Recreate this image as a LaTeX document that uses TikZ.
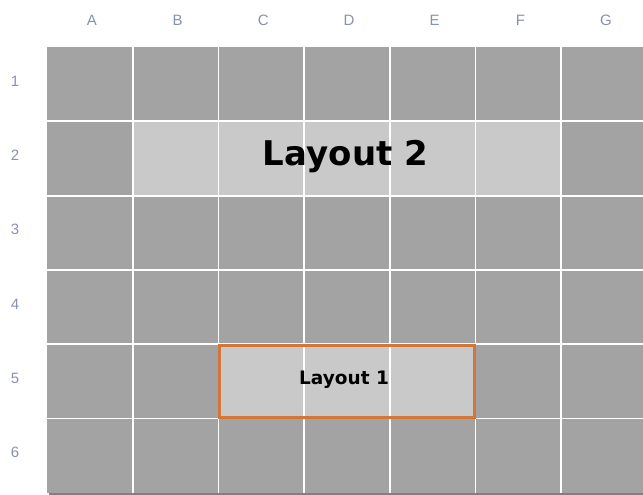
\documentclass[tikz,border=0pt]{standalone}
\usepackage{fontspec}
\setmainfont{DejaVu Sans}
\newfontfamily\labelfont{Liberation Sans}
\usetikzlibrary{fit,positioning}
\definecolor{cellgray}{HTML}{A3A3A3}
\definecolor{cellpale}{HTML}{C9C9C9}
\definecolor{labelblue}{HTML}{8890B0}
\definecolor{frameorange}{HTML}{D2773A}

\begin{document}
\begin{tikzpicture}[x=1pt, y=-1pt,
  cell/.style={fill=#1, minimum width=85.7pt, minimum height=74.3pt,
    inner sep=0, outer sep=0},
  cell/.default=cellgray,
  gridline/.style={draw=white, line width=1.8pt},
  axislabel/.style={font=\labelfont\fontsize{15}{15}\selectfont, text=labelblue},
  title/.style={font=\bfseries\fontsize{#1}{#1}\selectfont, anchor=base, inner sep=0}
]
  \clip (0,0) rectangle (643,495);

  % shadow under the grid
  \fill[black!50] (48.5,49) rectangle (650,494.8);

  % grid cells
  \foreach \c [count=\i] in {A,B,C,D,E,F,G} {
    \foreach \r in {1,...,6} {
      \node[cell] (\c\r) at ({47+85.7*(\i-0.5)}, {47+74.3*(\r-0.5)}) {};
    }
    \node[axislabel] (col\c) at ({49+85.7*(\i-0.5)}, 20) {\c};
  }
  \foreach \r in {1,...,6} {
    \node[axislabel] (row\r) at (15, {44+74.3*(\r-0.5)}) {\r};
  }

  % highlighted cells
  \foreach \c [count=\i from 2] in {B,C,D,E,F} {
    \node[cell=cellpale] (\c2) at ({47+85.7*(\i-0.5)}, {47+74.3*1.5}) {};
  }
  \foreach \c [count=\i from 3] in {C,D,E} {
    \node[cell=cellpale] (\c5) at ({47+85.7*(\i-0.5)}, {47+74.3*4.5}) {};
  }

  % white grid lines
  \foreach \c in {A,B,C,D,E,F} {
    \draw[gridline] (\c1.north east) -- (\c6.south east);
  }
  \foreach \r in {1,...,5} {
    \draw[gridline] (A\r.south west) -- (G\r.south east);
  }

  % Layout 1 frame
  \node[fit=(C5)(E5), draw=frameorange, line width=3pt, inner sep=-1.5pt] (frame1) {};

  % titles
  \node[title=34] (layout2) at (345.5,165) {Layout 2};
  \node[title=18.5] (layout1) at (344,384) {Layout 1};
\end{tikzpicture}
\end{document}
